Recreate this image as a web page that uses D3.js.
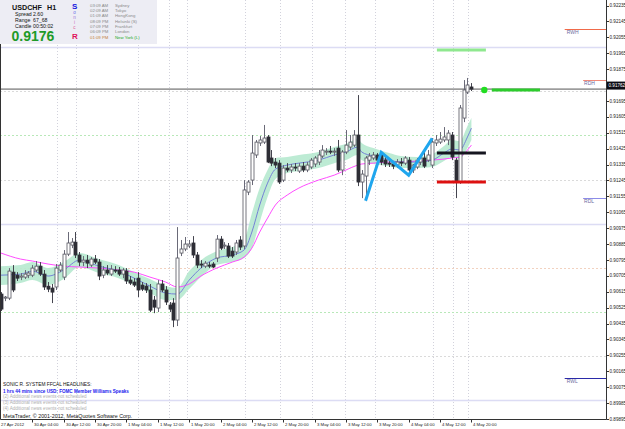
<!DOCTYPE html>
<html><head><meta charset="utf-8">
<script src="https://cdn.jsdelivr.net/npm/d3@7"></script>
<style>
html,body{margin:0;padding:0;background:#fff;overflow:hidden}
svg{display:block}
text{font-family:"Liberation Sans",Arial,sans-serif}
</style>
</head><body>
<svg id="c" width="625" height="429"></svg>
<script>
// ---------- DATA ----------
const opens=[0.90602,0.90579,0.90579,0.90726,0.90709,0.90698,0.90698,0.90709,0.90709,0.90738,
0.90760,0.90715,0.90647,0.90636,0.90642,0.90738,0.90698,0.90828,0.90879,0.90896,
0.90823,0.90783,0.90794,0.90766,0.90800,0.90783,0.90709,0.90738,0.90715,0.90738,
0.90738,0.90715,0.90732,0.90681,0.90670,0.90692,0.90653,0.90647,0.90625,0.90568,
0.90523,0.90659,0.90625,0.90540,0.90551,0.90455,0.90834,0.90857,0.90874,0.90891,
0.90823,0.90772,0.90760,0.90766,0.90772,0.90806,0.90913,0.90874,0.90874,0.90845,
0.90840,0.90908,0.90874,0.91179,0.91247,0.91389,0.91457,0.91462,0.91491,0.91372,
0.91349,0.91343,0.91247,0.91315,0.91304,0.91321,0.91298,0.91326,0.91304,0.91321,
0.91338,0.91349,0.91383,0.91406,0.91411,0.91406,0.91428,0.91304,0.91406,0.91434,
0.91445,0.91502,0.91236,0.91270,0.91360,0.91372,0.91389,0.91389,0.91360,0.91343,
0.91338,0.91332,0.91349,0.91343,0.91360,0.91304,0.91321,0.91349,0.91372,0.91360,
0.91332,0.91457,0.91462,0.91474,0.91474,0.91502,0.91360,0.91236,0.91598,0.91745,
0.91774];
const highs=[0.90613,0.90591,0.90749,0.90766,0.90726,0.90721,0.90738,0.90732,0.90766,0.90789,
0.90783,0.90738,0.90670,0.90659,0.90772,0.90783,0.90851,0.90953,0.90919,0.90953,
0.90840,0.90817,0.90823,0.90811,0.90823,0.90800,0.90760,0.90766,0.90766,0.90760,
0.90755,0.90749,0.90749,0.90704,0.90692,0.90726,0.90670,0.90664,0.90659,0.90591,
0.90681,0.90681,0.90647,0.90557,0.90579,0.90981,0.90908,0.90925,0.90908,0.90930,
0.90840,0.90794,0.90789,0.90783,0.90783,0.90936,0.90930,0.90896,0.90891,0.90868,
0.90908,0.90930,0.91247,0.91247,0.91502,0.91474,0.91496,0.91559,0.91502,0.91417,
0.91372,0.91360,0.91332,0.91343,0.91338,0.91343,0.91343,0.91349,0.91349,0.91372,
0.91383,0.91417,0.91445,0.91428,0.91440,0.91428,0.91474,0.91417,0.91530,0.91502,
0.91530,0.91728,0.91304,0.91383,0.91400,0.91406,0.91400,0.91406,0.91383,0.91360,
0.91355,0.91366,0.91372,0.91383,0.91377,0.91338,0.91372,0.91389,0.91406,0.91417,
0.91485,0.91502,0.91519,0.91547,0.91530,0.91519,0.91372,0.91672,0.91813,0.91825,
0.91796];
const lows=[0.90506,0.90562,0.90568,0.90613,0.90676,0.90681,0.90687,0.90692,0.90698,0.90726,
0.90704,0.90625,0.90613,0.90551,0.90625,0.90726,0.90681,0.90817,0.90862,0.90806,
0.90760,0.90760,0.90749,0.90755,0.90772,0.90681,0.90692,0.90709,0.90704,0.90721,
0.90704,0.90692,0.90659,0.90653,0.90642,0.90585,0.90619,0.90608,0.90500,0.90494,
0.90500,0.90613,0.90540,0.90500,0.90415,0.90421,0.90817,0.90845,0.90862,0.90806,
0.90749,0.90749,0.90749,0.90749,0.90749,0.90783,0.90851,0.90857,0.90806,0.90806,
0.90823,0.90851,0.90857,0.91162,0.91219,0.91372,0.91440,0.91451,0.91343,0.91326,
0.91315,0.91225,0.91236,0.91292,0.91287,0.91298,0.91287,0.91292,0.91292,0.91309,
0.91321,0.91332,0.91372,0.91389,0.91394,0.91383,0.91292,0.91275,0.91394,0.91417,
0.91434,0.91213,0.91145,0.91128,0.91332,0.91360,0.91349,0.91332,0.91321,0.91321,
0.91309,0.91315,0.91326,0.91332,0.91275,0.91287,0.91309,0.91332,0.91315,0.91349,
0.91315,0.91440,0.91451,0.91462,0.91445,0.91360,0.91145,0.91225,0.91575,0.91734,
0.91751];
const closes=[0.90517,0.90585,0.90732,0.90625,0.90692,0.90704,0.90715,0.90721,0.90749,0.90760,
0.90715,0.90642,0.90630,0.90613,0.90749,0.90766,0.90828,0.90891,0.90896,0.90823,
0.90783,0.90794,0.90777,0.90800,0.90783,0.90704,0.90738,0.90721,0.90743,0.90732,
0.90715,0.90738,0.90676,0.90664,0.90653,0.90625,0.90630,0.90625,0.90511,0.90528,
0.90659,0.90625,0.90557,0.90517,0.90455,0.90806,0.90857,0.90885,0.90885,0.90823,
0.90766,0.90766,0.90777,0.90760,0.90755,0.90913,0.90862,0.90879,0.90817,0.90817,
0.90891,0.90868,0.91191,0.91236,0.91400,0.91462,0.91474,0.91485,0.91349,0.91343,
0.91332,0.91236,0.91315,0.91304,0.91321,0.91315,0.91326,0.91304,0.91332,0.91360,
0.91372,0.91389,0.91417,0.91411,0.91406,0.91411,0.91304,0.91406,0.91445,0.91462,
0.91502,0.91236,0.91281,0.91372,0.91383,0.91389,0.91360,0.91349,0.91338,0.91338,
0.91326,0.91349,0.91343,0.91372,0.91304,0.91332,0.91360,0.91372,0.91326,0.91389,
0.91462,0.91474,0.91479,0.91491,0.91513,0.91377,0.91236,0.91655,0.91757,0.91785,
0.91762];

// indicator readings (bar index -> price)
const maIdx=[0,5,8,12,16,20,25,30,34,38,42,45,48,51,55,59,62,64,66,68,70,73,76,81,85,88,91,92,95,99,102,106,110,113,115,117,119,120];
const emaMid=[0.90709,0.90715,0.90732,0.90704,0.90738,0.90794,0.90760,0.90732,0.90692,0.90647,0.90608,0.90602,0.90681,0.90749,0.90806,0.90823,0.90851,0.90953,0.91106,0.91230,0.91309,0.91332,0.91343,0.91360,0.91389,0.91406,0.91434,0.91406,0.91383,0.91360,0.91349,0.91349,0.91360,0.91400,0.91423,0.91417,0.91491,0.91541];
const bandHigh=[0.90760,0.90766,0.90783,0.90749,0.90783,0.90834,0.90800,0.90766,0.90726,0.90687,0.90647,0.90636,0.90732,0.90794,0.90845,0.90868,0.90908,0.91060,0.91202,0.91304,0.91372,0.91377,0.91389,0.91406,0.91434,0.91451,0.91479,0.91457,0.91428,0.91400,0.91383,0.91377,0.91394,0.91440,0.91474,0.91468,0.91553,0.91598];
const bandLow=[0.90653,0.90664,0.90681,0.90653,0.90687,0.90755,0.90721,0.90692,0.90653,0.90608,0.90568,0.90568,0.90630,0.90698,0.90766,0.90783,0.90806,0.90862,0.91010,0.91151,0.91253,0.91287,0.91298,0.91315,0.91343,0.91360,0.91389,0.91360,0.91338,0.91326,0.91315,0.91315,0.91321,0.91355,0.91377,0.91366,0.91428,0.91474];
const emaSlow=[0.90834,0.90800,0.90789,0.90772,0.90760,0.90755,0.90749,0.90738,0.90726,0.90698,0.90670,0.90642,0.90659,0.90704,0.90749,0.90783,0.90811,0.90862,0.90953,0.91032,0.91106,0.91162,0.91202,0.91247,0.91275,0.91304,0.91332,0.91338,0.91343,0.91349,0.91349,0.91355,0.91360,0.91366,0.91372,0.91377,0.91417,0.91445];

const zigIdx=[93,97,104,110];
const zigPrice=[0.91130,0.91404,0.91275,0.91483];

const priceTicks=[0.92235,0.92145,0.92055,0.91965,0.91875,0.91785,0.91695,0.91605,0.91515,0.91425,0.91335,0.91245,0.91155,0.91065,0.90975,0.90885,0.90795,0.90705,0.90615,0.90525,0.90435,0.90345,0.90255,0.90165,0.90075,0.89985,0.89895];
const timeLabels=["27 Apr 2012","30 Apr 04:00","30 Apr 12:00","30 Apr 20:00","1 May 04:00","1 May 12:00","1 May 20:00","2 May 04:00","2 May 12:00","2 May 20:00","3 May 04:00","3 May 12:00","3 May 20:00","4 May 04:00","4 May 12:00","4 May 20:00"];
const timeLabelIdx=[0,8,16,24,32,40,48,56,64,72,80,88,96,104,112,120];

const lastPrice=0.91762;
const quarterLevels=[0.9200,0.9175,0.9150,0.9125,0.9100,0.9075,0.9050,0.9025,0.9000];
const pivotNames=["RWH","RDH","RDL","RWL"];
const pivotValues=[0.92104,0.91811,0.91144,0.90125];
const targetNames=["T1","Open","Stop"];
const targetValues=[0.91983,0.91400,0.91236];
const entryPrice=0.91757;

const symbol="USDCHF", period="H1", spread="2.60", range="67_68", candleLeft="00:50:02", bigPrice="0.9176";
const cities=["Sydney","Tokyo","HongKong","Helsinki (S)","Frankfurt","London","New York (L)"];
const cityTimes=["03:09 AM","02:09 AM","01:09 AM","08:09 PM","07:09 PM","06:09 PM","01:09 PM"];
const headline="SONIC R. SYSTEM  FFCAL HEADLINES:";
const newsLines=["1 hrs 44 mins since USD: FOMC Member Williams Speaks","(2) Additional news events not scheduled","(3) Additional news events not scheduled","(4) Additional news events not scheduled"];
const copyright="MetaTrader, \u00a9 2001-2012, MetaQuotes Software Corp.";

// ---------- SCALES ----------
const svg=d3.select("#c");
const R=606.5, B=419.5;
const x=d3.scaleLinear().domain([0,120]).range([1,471.4]);
const y=d3.scaleLinear().domain([0.89895,0.92235]).range([419,5.5]);

svg.append("rect").attr("width",625).attr("height",429).attr("fill","#fff");
svg.append("defs").append("clipPath").attr("id","clip").append("rect").attr("x",0).attr("y",0).attr("width",R).attr("height",B);
const plot=svg.append("g").attr("clip-path","url(#clip)");

// vertical dotted grid (irregular in source)
const gridIdx=[14.3,19.1,35,42.9,47.4,62.2,71.2,79.3,87.8,95.4,110.2,115.3,119.2];
plot.selectAll(".vg").data(gridIdx).join("line")
  .attr("x1",d=>Math.round(x(d))+0.5).attr("x2",d=>Math.round(x(d))+0.5)
  .attr("y1",0).attr("y2",B).attr("stroke","#d2d2dc").attr("stroke-width",1).attr("stroke-dasharray","1,2");

// quarter levels
plot.selectAll(".ql").data(quarterLevels).join("line")
  .attr("x1",0).attr("x2",R).attr("y1",d=>Math.round(y(d))+0.5).attr("y2",d=>Math.round(y(d))+0.5)
  .attr("stroke",d=>{const k=Math.round(d*10000)%100; return k===0?"#dcdcf4":k===50?"#b8e8b8":(d<0.908&&d>0.907)?"#f2d2c0":"#dadada";})
  .attr("stroke-width",d=>Math.round(d*10000)%100===0?1.5:1)
  .attr("stroke-dasharray",d=>Math.round(d*10000)%100===0?null:"2,2");

// band
const mdat=maIdx.map((d,i)=>({i:d,mid:emaMid[i],hi:bandHigh[i],lo:bandLow[i],slow:emaSlow[i]}));
plot.append("path").datum(mdat)
  .attr("d",d3.area().curve(d3.curveMonotoneX).x(d=>x(d.i)).y0(d=>y(d.lo)).y1(d=>y(d.hi)))
  .attr("fill","#b6e9cf").attr("opacity",0.9);
plot.append("path").datum(mdat)
  .attr("d",d3.line().curve(d3.curveMonotoneX).x(d=>x(d.i)).y(d=>y(d.slow)))
  .attr("fill","none").attr("stroke","#ff4cff").attr("stroke-width",1);
plot.append("path").datum(mdat)
  .attr("d",d3.line().curve(d3.curveMonotoneX).x(d=>x(d.i)).y(d=>y(d.mid)))
  .attr("fill","none").attr("stroke","#7582d6").attr("stroke-width",1);

// current price line
plot.append("line").attr("x1",0).attr("x2",R).attr("y1",y(lastPrice)).attr("y2",y(lastPrice))
  .attr("stroke","#555").attr("stroke-width",1);

// candles
const bars=opens.map((o,i)=>({i,o,h:highs[i],l:lows[i],c:closes[i]}));
const cg=plot.append("g");
cg.selectAll(".wk").data(bars).join("line")
  .attr("x1",d=>Math.round(x(d.i))+0.5).attr("x2",d=>Math.round(x(d.i))+0.5)
  .attr("y1",d=>y(d.h)).attr("y2",d=>y(d.l))
  .attr("stroke",d=>d.c>=d.o?"#6a6a78":"#45454f").attr("stroke-width",1);
cg.selectAll(".bd").data(bars).join("rect")
  .attr("x",d=>Math.round(x(d.i))-1)
  .attr("y",d=>Math.min(y(d.o),y(d.c)))
  .attr("width",3)
  .attr("height",d=>Math.max(1,Math.abs(y(d.o)-y(d.c))))
  .attr("fill",d=>d.c>=d.o?"#ffffff":"#2e2e36")
  .attr("stroke",d=>d.c>=d.o?"#55555f":"#2e2e36").attr("stroke-width",0.8);

// zigzag
plot.append("path").datum(zigIdx.map((d,i)=>[x(d),y(zigPrice[i])]))
  .attr("d",d3.line()).attr("fill","none").attr("stroke","#1fa6ee").attr("stroke-width",3);

// target lines
const tCols=["#8fe88f","#15151f","#dd1010"];
plot.selectAll(".tl").data(targetValues).join("line")
  .attr("x1",x(111.2)).attr("x2",x(123.7)).attr("y1",d=>y(d)).attr("y2",d=>y(d))
  .attr("stroke",(d,i)=>tCols[i]).attr("stroke-width",3);
plot.append("circle").attr("cx",x(123.3)).attr("cy",y(entryPrice)).attr("r",3.2).attr("fill","#22dd22");
plot.append("line").attr("x1",x(125.2)).attr("x2",x(137.5)).attr("y1",y(entryPrice)).attr("y2",y(entryPrice))
  .attr("stroke","#2ccc2c").attr("stroke-width",3);

// pivot lines (right side)
const pCols=["#f06a4a","#f08a7a","#8c8ce8","#2a2aa8"];
const pStart=[143.8,148.5,148.5,143.8];
plot.selectAll(".pl").data(pivotValues).join("line")
  .attr("x1",(d,i)=>x(pStart[i])).attr("x2",R).attr("y1",d=>Math.round(y(d))+0.5).attr("y2",d=>Math.round(y(d))+0.5)
  .attr("stroke",(d,i)=>pCols[i]).attr("stroke-width",1.2);
plot.selectAll(".pt").data(pivotValues).join("text")
  .attr("x",(d,i)=>x(pStart[i])+(i===0||i===3?2:1)).attr("y",d=>y(d)+5)
  .attr("font-size",5).attr("fill","#6a6aa0").text((d,i)=>pivotNames[i]);

// frame
svg.append("path").attr("d",`M0.5,0 V${B} H${R} V0`).attr("fill","none").attr("stroke","#333").attr("stroke-width",1);

// right axis
const ax=svg.append("g");
ax.selectAll(".rt").data(priceTicks).join("line")
  .attr("x1",R).attr("x2",R+2.5).attr("y1",d=>Math.round(y(d))+0.5).attr("y2",d=>Math.round(y(d))+0.5)
  .attr("stroke","#333");
ax.selectAll(".rl").data(priceTicks).join("text")
  .attr("x",R+3).attr("y",d=>y(d)).attr("dy","0.35em")
  .attr("font-size",4.6).attr("fill","#222").text(d=>d.toFixed(5));
ax.append("rect").attr("x",R+0.5).attr("y",y(lastPrice)-7.5).attr("width",18).attr("height",8).attr("fill","#0c0c14");
ax.append("text").attr("x",R+2).attr("y",y(lastPrice)-3.5).attr("dy","0.35em")
  .attr("font-size",4.6).attr("fill","#fff").text(lastPrice.toFixed(5));

// bottom axis
ax.selectAll(".bt").data(timeLabelIdx.slice(1)).join("line")
  .attr("x1",d=>Math.round(x(d))+0.5).attr("x2",d=>Math.round(x(d))+0.5).attr("y1",B).attr("y2",B+3)
  .attr("stroke","#333");
ax.selectAll(".bl").data(timeLabels).join("text")
  .attr("x",(d,i)=>i===0?1:Math.round(x(timeLabelIdx[i]))+2).attr("y",424.5).attr("dy","0.35em")
  .attr("font-size",4.3).attr("fill","#222").text(d=>d);

// info panel
const ip=svg.append("g");
ip.append("rect").attr("x",0).attr("y",0).attr("width",157).attr("height",44).attr("fill","#ededf4");
ip.append("text").attr("x",12).attr("y",10).attr("font-size",7.2).attr("font-weight","bold").attr("fill","#111").text(symbol);
ip.append("text").attr("x",47).attr("y",10).attr("font-size",7.2).attr("font-weight","bold").attr("fill","#111").text(period);
[["Spread",spread],["Range",range],["Candle",candleLeft]].forEach((r,k)=>{
  ip.append("text").attr("x",15).attr("y",16+k*6).attr("font-size",5.2).attr("fill","#111").text(r[0]);
  ip.append("text").attr("x",33).attr("y",16+k*6).attr("font-size",5.2).attr("fill","#111").text(r[1]);
});
ip.append("text").attr("x",11.5).attr("y",40.5).attr("font-size",14).attr("font-weight","bold").attr("fill","#1e9a28").text(bigPrice);
ip.append("text").attr("x",72).attr("y",9).attr("font-size",8).attr("font-weight","bold").attr("fill","#1414e0").text("S");
const sl=["o","n","i","c"], sc=["#6a6ae8","#9a72d8","#c870c0","#e0609a"];
sl.forEach((l,k)=>ip.append("text").attr("x",74.5).attr("y",13.5+k*5.2).attr("font-size",4.6).attr("text-anchor","middle").attr("fill",sc[k]).text(l));
ip.append("text").attr("x",72).attr("y",38.5).attr("font-size",8).attr("font-weight","bold").attr("fill","#e0105a").text("R");
cities.forEach((c,k)=>{
  const last=k===cities.length-1;
  ip.append("text").attr("x",90).attr("y",5.3+k*5.3).attr("dy","0.35em").attr("font-size",4.3).attr("fill",last?"#c4823a":"#8a8a8a").text(cityTimes[k]);
  ip.append("text").attr("x",115).attr("y",5.3+k*5.3).attr("dy","0.35em").attr("font-size",4.3).attr("fill",last?"#22aa22":"#8a8a8a").text(c);
});

// news block
svg.append("text").attr("x",3).attr("y",384).attr("dy","0.35em").attr("font-size",4.8).attr("fill","#111").text(headline);
const nCols=["#1a1aee","#b0b0b0","#b0b0b0","#b0b0b0"];
newsLines.forEach((t,k)=>svg.append("text").attr("x",3).attr("y",391+k*5.7).attr("dy","0.35em")
  .attr("font-size",4.6).attr("fill",nCols[k]).attr("font-weight",k===0?"bold":null).text(t));
svg.append("text").attr("x",3).attr("y",416).attr("dy","0.35em").attr("font-size",5.3).attr("fill","#111").text(copyright);
</script>
</body></html>
